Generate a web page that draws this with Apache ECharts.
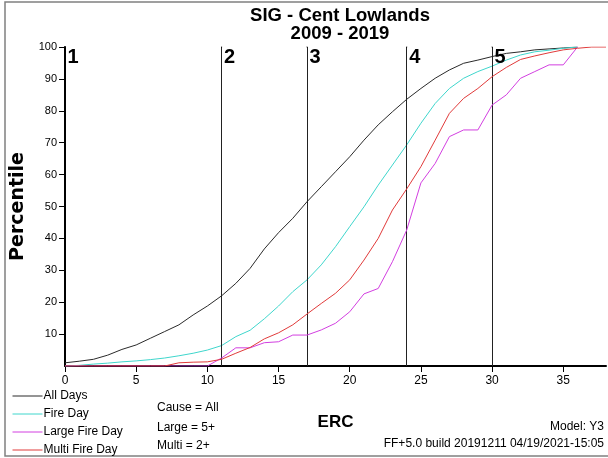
<!DOCTYPE html>
<html>
<head>
<meta charset="utf-8">
<script src="https://cdn.jsdelivr.net/npm/echarts@6/dist/echarts.min.js"></script>
<style>
  html, body { margin: 0; padding: 0; background: #fff; }
  #chart { width: 608px; height: 458px; }
</style>
</head>
<body>
<div id="chart"></div>
<script>
// ERC values (x) at which each percentile curve is sampled
const erc = [0,1,2,3,4,5,6,7,8,9,10,11,12,13,14,15,16,17,18,19,20,21,22,23,24,25,26,27,28,29,30,31,32,33,34,35,36,37,38];

// Cumulative percentile curves
const allDays = [1.0,1.5,2.1,3.4,5.2,6.6,8.7,10.8,12.9,16.0,18.8,22.0,25.9,30.6,36.7,41.8,46.3,51.5,56.2,60.9,65.6,70.8,75.6,79.7,83.6,87.0,90.2,92.8,94.9,95.9,97.0,98.0,98.5,99.1,99.4,99.7,100,null,null];
const fireDay = [0,0.2,0.6,0.9,1.3,1.6,2.0,2.5,3.2,4.0,5.0,6.4,9.2,11.2,14.8,18.8,23.3,27.0,31.7,37.4,43.7,49.9,56.7,63.0,69.3,76.1,82.3,87.0,90.2,92.3,94.0,95.9,97.5,98.5,99.0,99.6,100,null,null];
const largeFireDay = [0,0,0,0,0,0,0,0,0,0,0,2.5,5.7,5.7,7.3,7.6,9.7,9.7,11.3,13.4,17.0,22.6,24.3,32.7,42.6,57.4,63.5,71.9,74.0,74.0,81.8,85.0,90.2,92.3,94.4,94.4,100,null,null];
const multiFireDay = [0,0,0,0,0,0,0,0,1.0,1.2,1.3,2.1,4.0,5.8,8.5,10.4,12.9,16.3,19.6,22.8,27.0,33.2,40.0,48.9,55.5,62.5,70.8,79.2,83.9,87.0,90.7,93.6,96.1,97.2,98.2,99.1,99.6,100,100];

// Class breakpoints on the ERC axis and their class numbers
const breakpoints = [0, 11, 17, 24, 30];
const classLabels = ['1', '2', '3', '4', '5'];

// Axis tick values
const xTicks = [0, 5, 10, 15, 20, 25, 30, 35];
const yTicks = [10, 20, 30, 40, 50, 60, 70, 80, 90, 100];

const seriesNames = ['All Days', 'Fire Day', 'Large Fire Day', 'Multi Fire Day'];
const seriesColors = ['#2a2a2a', '#3fd6cc', '#d23fe0', '#e03a3a'];
const seriesData = [allDays, fireDay, largeFireDay, multiFireDay];

const pair = vals => erc.map((x, i) => [x, vals[i]]);

const chart = echarts.init(document.getElementById('chart'), null, { renderer: 'canvas' });

const lineSeries = seriesNames.map((name, k) => ({
  name: name,
  type: 'line',
  data: pair(seriesData[k]),
  symbol: 'none',
  connectNulls: false,
  lineStyle: { color: seriesColors[k], width: 1 },
  itemStyle: { color: seriesColors[k] },
  z: 3 + k
}));

// Vertical breakpoint lines
lineSeries[0].markLine = {
  silent: true,
  symbol: 'none',
  label: { show: false },
  lineStyle: { color: '#222', width: 1, type: 'solid' },
  data: breakpoints.slice(1).map(v => ({ xAxis: v }))
};

// Class numbers at the top of each breakpoint
const classSeries = {
  name: 'classes',
  type: 'scatter',
  data: breakpoints.map((v, i) => ({ value: [v, 100], name: classLabels[i] })),
  symbol: 'rect',
  symbolSize: 1,
  itemStyle: { color: '#000' },
  label: {
    show: true,
    position: [3, 1],
    formatter: p => p.name,
    fontFamily: '"Liberation Sans Narrow", "Liberation Sans", Arial, sans-serif',
    fontWeight: 'bold',
    fontSize: 20,
    color: '#000',
    opacity: 1
  },
  z: 10
};

const smallFont = '"Liberation Sans", Arial, sans-serif';

chart.setOption({
  animation: false,
  backgroundColor: '#fff',
  title: {
    text: 'SIG - Cent Lowlands\n2009 - 2019',
    left: 335,
    top: 2,
    textAlign: 'center',
    textStyle: {
      fontFamily: smallFont,
      fontWeight: 'bold',
      fontSize: 18.5,
      lineHeight: 18,
      color: '#000'
    }
  },
  legend: {
    data: seriesNames,
    orient: 'vertical',
    left: 12,
    top: 390,
    height: 100,
    padding: 0,
    itemWidth: 30,
    itemHeight: 12,
    itemGap: 6,
    itemStyle: { opacity: 0 },
    lineStyle: { width: 1 },
    textStyle: { fontFamily: smallFont, fontSize: 12, color: '#000', padding: [0, 0, 0, -4] }
  },
  grid: { left: 65, top: 47, width: 541, height: 319, containLabel: false },
  xAxis: {
    type: 'value',
    min: 0,
    max: 38,
    interval: 5,
    name: 'ERC',
    nameLocation: 'middle',
    nameGap: 48,
    nameTextStyle: { fontFamily: smallFont, fontWeight: 'bold', fontSize: 17, color: '#000' },
    axisLine: { show: true, onZero: false, lineStyle: { color: '#000', width: 2 } },
    axisTick: { show: true, length: 6, inside: false, customValues: xTicks, lineStyle: { color: '#000', width: 1 } },
    axisLabel: { customValues: xTicks, margin: 9, fontFamily: smallFont, fontSize: 12, color: '#000' },
    splitLine: { show: false }
  },
  yAxis: {
    type: 'value',
    min: 0,
    max: 100,
    interval: 10,
    name: 'Percentile',
    nameLocation: 'middle',
    nameRotate: 90,
    nameGap: 35,
    nameTextStyle: { fontFamily: '"DejaVu Sans", sans-serif', fontWeight: 'bold', fontSize: 19, color: '#000' },
    axisLine: { show: true, onZero: false, lineStyle: { color: '#000', width: 2 } },
    axisTick: { show: true, length: 6, customValues: yTicks, lineStyle: { color: '#000', width: 1 } },
    axisLabel: {
      customValues: yTicks,
      margin: 8,
      fontFamily: '"Liberation Sans Narrow", "Liberation Sans", Arial, sans-serif',
      fontSize: 11,
      color: '#000'
    },
    splitLine: { show: false }
  },
  graphic: [
    { type: 'rect', shape: { x: 5, y: 2, width: 620, height: 454 }, style: { fill: 'none', stroke: '#808080', lineWidth: 1.5 }, silent: true },
    { type: 'text', left: 157, top: 402, style: { text: 'Cause = All', font: '12px ' + smallFont, fill: '#000' } },
    { type: 'text', left: 157, top: 422, style: { text: 'Large = 5+', font: '12px ' + smallFont, fill: '#000' } },
    { type: 'text', left: 157, top: 440, style: { text: 'Multi = 2+', font: '12px ' + smallFont, fill: '#000' } },
    { type: 'text', right: 4, top: 421, style: { text: 'Model: Y3', font: '12px ' + smallFont, fill: '#000' } },
    { type: 'text', right: 4, top: 438, style: { text: 'FF+5.0 build 20191211 04/19/2021-15:05', font: '12px ' + smallFont, fill: '#000' } }
  ],
  series: lineSeries.concat([classSeries])
});
</script>
</body>
</html>
